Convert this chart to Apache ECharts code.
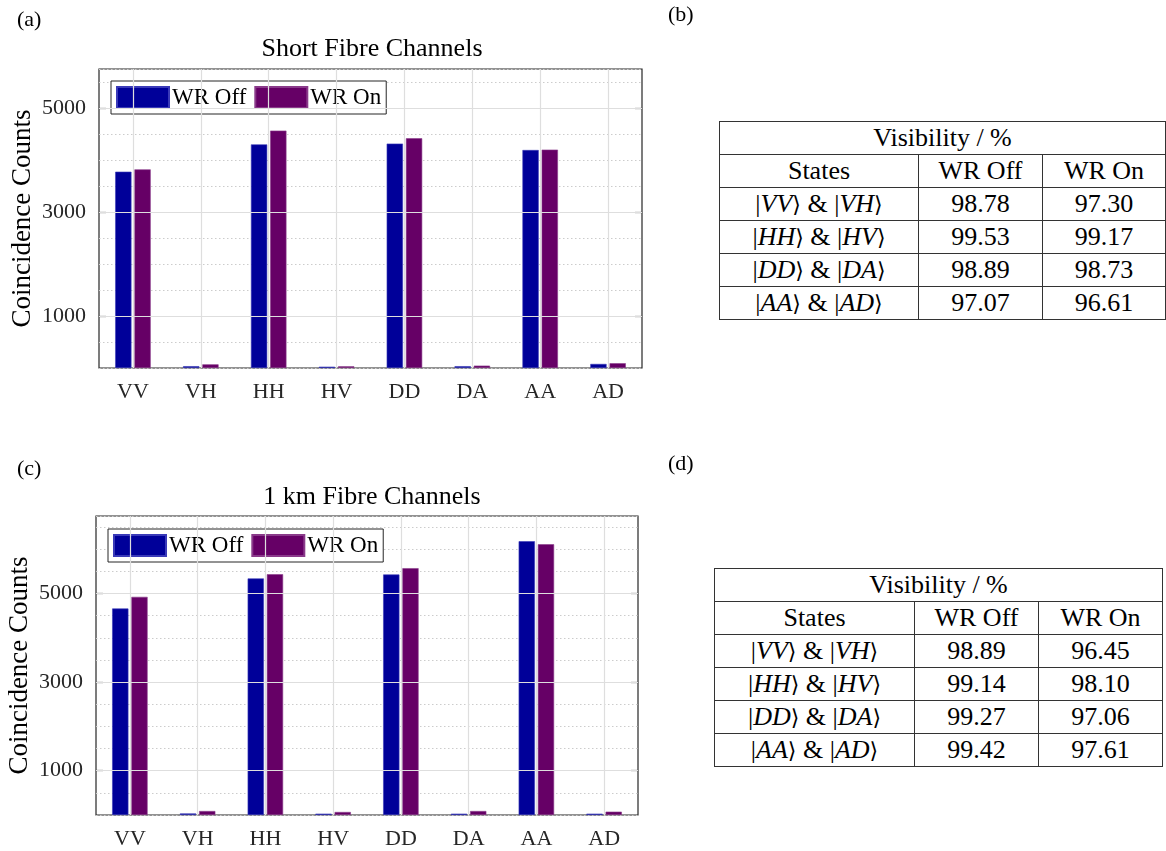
<!DOCTYPE html>
<html>
<head>
<meta charset="utf-8">
<script src="https://cdn.jsdelivr.net/npm/echarts@6/dist/echarts.min.js"></script>
<style>
  body { margin: 0; background: #fff; }
  #chart { position: absolute; left: 0; top: 0; width: 1166px; height: 851px; }
  table.vis {
    position: absolute;
    border-collapse: collapse;
    background: #fff;
    font-family: 'Liberation Serif', serif;
  }
  table.vis td {
    font-family: 'Liberation Serif', serif;
    font-size: 26px;
    color: #000;
    border: 1.3px solid #333;
    text-align: center;
    padding: 0;
    height: 32px;
    line-height: 1;
  }
  table.vis i { font-style: italic; }
  table.vis span.br { font-family: 'DejaVu Serif', serif; font-size: 22px; }
</style>
</head>
<body>
<div id="chart"></div>
<table class="vis" id="tabB" style="left:719px;top:121px"></table>
<table class="vis" id="tabD" style="left:714px;top:568px"></table>
<script>
"use strict";
// bar chart data (coincidence counts)
const categories = ['VV', 'VH', 'HH', 'HV', 'DD', 'DA', 'AA', 'AD'];
const shortOff = [3775, 35, 4300, 25, 4315, 35, 4192, 78];
const shortOn = [3820, 70, 4565, 33, 4418, 45, 4199, 92];
const kmOff = [4662, 35, 5340, 30, 5430, 30, 6181, 30];
const kmOn = [4925, 90, 5436, 68, 5572, 90, 6113, 75];
const labelTicks = [1000, 3000, 5000];

// visibility tables
const statePairs = [['VV', 'VH'], ['HH', 'HV'], ['DD', 'DA'], ['AA', 'AD']];
const shortVisOff = ['98.78', '99.53', '98.89', '97.07'];
const shortVisOn = ['97.30', '99.17', '98.73', '96.61'];
const kmVisOff = ['98.89', '99.14', '99.27', '99.42'];
const kmVisOn = ['96.45', '98.10', '97.06', '97.61'];

const blue = '#000099';
const purple = '#660066';
const serif = "'Liberation Serif', serif";
const axisGrey = '#262626';

const panels = [
    {
        letter: '(a)', title: 'Short Fibre Channels', off: shortOff, on: shortOn, max: 5750,
        grid: { left: 99, top: 69, width: 543, height: 299 },
        titleTop: 31, letterTop: 4, legend: { left: 111, top: 81 }
    },
    {
        letter: '(c)', title: '1 km Fibre Channels', off: kmOff, on: kmOn, max: 6750,
        grid: { left: 96, top: 516, width: 542, height: 299 },
        titleTop: 479, letterTop: 453, legend: { left: 108, top: 529 }
    }
];

const option = {
    animation: false,
    backgroundColor: '#fff',
    title: [],
    legend: [],
    grid: [],
    xAxis: [],
    yAxis: [],
    series: []
};

panels.forEach((p, i) => {
    option.title.push({
        text: p.title, left: 367, top: p.titleTop, textAlign: 'center',
        textStyle: { fontFamily: serif, fontSize: 26, fontWeight: 'normal', color: '#000' }
    });
    option.title.push({
        text: p.letter, left: 12, top: p.letterTop,
        textStyle: { fontFamily: serif, fontSize: 22, fontWeight: 'normal', color: '#000' }
    });
    option.legend.push({
        data: ['WR Off', 'WR On'],
        left: p.legend.left, top: p.legend.top,
        orient: 'horizontal',
        icon: 'rect',
        itemWidth: 52, itemHeight: 21, itemGap: 8,
        padding: [5, 5],
        borderColor: axisGrey, borderWidth: 1, backgroundColor: '#fff',
        textStyle: { fontFamily: serif, fontSize: 23, color: '#000', padding: [0, 0, 0, -2] }
    });
    option.grid.push(Object.assign({
        show: true, borderColor: axisGrey, borderWidth: 1.2, backgroundColor: '#fff', containLabel: false
    }, p.grid));
    option.xAxis.push({
        type: 'category', gridIndex: i, data: categories,
        axisLine: { show: false }, axisTick: { show: false }, splitLine: { show: false },
        axisLabel: { fontFamily: serif, fontSize: 22, color: axisGrey, margin: 13 }
    });
    // main value axis: labels + dotted minor grid
    option.yAxis.push({
        type: 'value', gridIndex: i, min: 0, max: p.max, interval: 500,
        name: 'Coincidence Counts', nameLocation: 'middle', nameGap: 63,
        nameTextStyle: { fontFamily: serif, fontSize: 27, color: '#000' },
        axisLine: { show: false }, axisTick: { show: false },
        axisLabel: {
            fontFamily: serif, fontSize: 22, color: axisGrey, margin: 13,
            formatter: v => (labelTicks.indexOf(v) >= 0 ? String(v) : '')
        },
        splitLine: { show: true, lineStyle: { color: '#cccccc', type: [1.5, 2.5], width: 1 } }
    });
    // inward tick marks on both sides
    ['left', 'right'].forEach(pos => {
        option.yAxis.push({
            type: 'value', gridIndex: i, min: 0, max: p.max, position: pos,
            axisLine: { show: false }, axisLabel: { show: false }, splitLine: { show: false },
            axisTick: { show: true, inside: true, length: 7, customValues: labelTicks,
                lineStyle: { color: axisGrey, width: 1.2 } }
        });
    });
    const yMain = i * 3;
    // solid major grid lines, behind the bars
    option.series.push({
        type: 'line', xAxisIndex: i, yAxisIndex: yMain, data: [], z: 1, silent: true,
        markLine: {
            silent: true, symbol: 'none', label: { show: false },
            lineStyle: { color: '#dedede', type: 'solid', width: 1.2 },
            emphasis: { disabled: true },
            data: labelTicks.map(v => ({ yAxis: v })).concat(categories.map(c => ({ xAxis: c })))
        }
    });
    option.series.push({
        name: 'WR Off', type: 'bar', xAxisIndex: i, yAxisIndex: yMain, data: p.off, z: 2,
        barWidth: '24%', barGap: '18%',
        itemStyle: { color: blue, borderColor: '#3a3ab8', borderWidth: 0.6 }
    });
    option.series.push({
        name: 'WR On', type: 'bar', xAxisIndex: i, yAxisIndex: yMain, data: p.on, z: 2,
        barWidth: '24%', barGap: '18%',
        itemStyle: { color: purple, borderColor: '#8a3a8a', borderWidth: 0.6 }
    });
});

option.graphic = [
    { type: 'text', left: 668, top: 4, style: { text: '(b)', font: '22px ' + serif, fill: '#000' } },
    { type: 'text', left: 668, top: 453, style: { text: '(d)', font: '22px ' + serif, fill: '#000' } }
];

const chart = echarts.init(document.getElementById('chart'));
chart.setOption(option);

function stateCell(pair) {
    const br = '<span class="br">\u27E9</span>';
    return '|<i>' + pair[0] + '</i>' + br + ' &amp; |<i>' + pair[1] + '</i>' + br;
}

function buildTable(id, offVals, onVals, widths) {
    const table = document.getElementById(id);
    let html = '<colgroup>' + widths.map(w => '<col style="width:' + w + 'px">').join('') + '</colgroup>';
    html += '<tr><td colspan="3">Visibility / %</td></tr>';
    html += '<tr><td>States</td><td>WR Off</td><td>WR On</td></tr>';
    statePairs.forEach((pair, k) => {
        html += '<tr><td>' + stateCell(pair) + '</td><td>' + offVals[k] + '</td><td>' + onVals[k] + '</td></tr>';
    });
    table.innerHTML = html;
}
buildTable('tabB', shortVisOff, shortVisOn, [199, 124, 123]);
buildTable('tabD', kmVisOff, kmVisOn, [200, 124, 124]);
</script>
</body>
</html>
